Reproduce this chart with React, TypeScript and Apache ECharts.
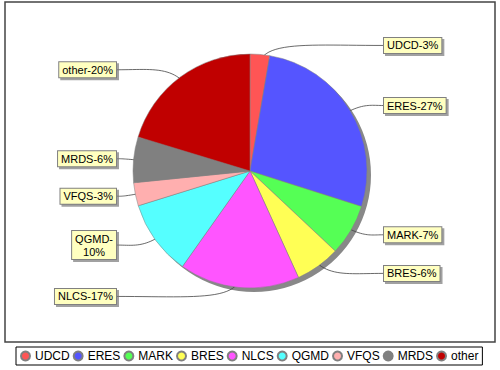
import React, { useEffect, useRef } from 'react';
import * as echarts from 'echarts';

const categories = ['UDCD', 'ERES', 'MARK', 'BRES', 'NLCS', 'QGMD', 'VFQS', 'MRDS', 'other'];
const values = [2.7, 27.2, 7.1, 6.2, 16.6, 10.4, 3.2, 6.3, 20.3];
const colors = ['#FF5555', '#5555FF', '#55FF55', '#FFFF55', '#FF55FF', '#55FFFF', '#FFAFAF', '#808080', '#C00000'];
const wrappedLabels = ['QGMD'];

const CX = 250;
const CY = 171;
const R = 117;
const LABEL_GAP = 16;
const FONT = '"Liberation Sans", Arial, sans-serif';

function bezierPoints(p0: number[], p1: number[], p2: number[], p3: number[], n: number) {
  const pts: number[][] = [];
  for (let i = 0; i <= n; i++) {
    const t = i / n;
    const a = (1 - t) * (1 - t) * (1 - t);
    const b = 3 * (1 - t) * (1 - t) * t;
    const c = 3 * (1 - t) * t * t;
    const d = t * t * t;
    pts.push([
      a * p0[0] + b * p1[0] + c * p2[0] + d * p3[0],
      a * p0[1] + b * p1[1] + c * p2[1] + d * p3[1],
    ]);
  }
  return pts;
}

export default function App() {
  const ref = useRef<HTMLDivElement>(null);
  useEffect(() => {
    if (!ref.current) return;
    const chart = echarts.init(ref.current, null, { renderer: 'svg' });
    const total = values.reduce((a, b) => a + b, 0);
    chart.setOption({
      animation: false,
      backgroundColor: '#ffffff',
      graphic: [
        {
          type: 'rect',
          silent: true,
          z: -10,
          shape: { x: 5, y: 2, width: 490, height: 340 },
          style: { fill: 'none', stroke: '#444444', lineWidth: 1.5 },
        },
      ],
      legend: {
        data: categories,
        left: 16,
        top: 347,
        orient: 'horizontal',
        icon: 'circle',
        itemWidth: 9,
        itemHeight: 9,
        itemGap: 3,
        padding: [3, 4],
        borderColor: '#000000',
        borderWidth: 1,
        selectedMode: false,
        textStyle: { fontFamily: FONT, fontSize: 12, color: '#000000' },
      },
      series: [
        {
          type: 'pie',
          name: 'shadow',
          center: [CX + 4, CY + 4],
          radius: R,
          silent: true,
          z: 1,
          label: { show: false },
          labelLine: { show: false },
          emphasis: { disabled: true },
          data: [{ value: 1, name: '', itemStyle: { color: '#888888' } }],
        },
        {
          type: 'pie',
          name: 'share',
          center: [CX, CY],
          radius: R,
          startAngle: 90,
          clockwise: true,
          z: 2,
          avoidLabelOverlap: true,
          emphasis: { disabled: true },
          itemStyle: { borderColor: '#808080', borderWidth: 0.5 },
          data: categories.map((c, i) => ({ name: c, value: values[i], itemStyle: { color: colors[i] } })),
          label: {
            show: true,
            position: 'outside',
            formatter: (p: any) => {
              const pct = Math.round((p.value / total) * 100);
              return wrappedLabels.includes(p.name) ? `${p.name}-\n${pct}%` : `${p.name}-${pct}%`;
            },
            fontFamily: FONT,
            fontSize: 11,
            lineHeight: 13,
            color: '#000000',
            backgroundColor: '#FFFFC0',
            borderColor: '#808080',
            borderWidth: 1,
            padding: [1, 3],
            shadowColor: 'rgba(120,120,120,0.7)',
            shadowOffsetX: 2,
            shadowOffsetY: 2,
            shadowBlur: 1,
          },
          labelLine: {
            show: true,
            length: 9,
            length2: 20,
            lineStyle: { color: '#444444', width: 0.8 },
          },
          labelLayout: (params: any) => {
            const rect = params.labelRect;
            const pts = params.labelLinePoints;
            const cyLabel = rect.y + rect.height / 2;
            const isLeft = rect.x + rect.width / 2 < CX;
            const edgeX = isLeft ? CX - R - LABEL_GAP : CX + R + LABEL_GAP;
            const boxCenterX = isLeft ? edgeX - rect.width / 2 : edgeX + rect.width / 2;
            const out: any = { x: boxCenterX, y: cyLabel, align: 'center', verticalAlign: 'middle' };
            if (pts && pts.length >= 2) {
              const p0 = pts[0];
              const ux = (p0[0] - CX) / R;
              const uy = (p0[1] - CY) / R;
              const inner = [CX + ux * R * 0.9, CY + uy * R * 0.9];
              const outer = [CX + ux * R * 1.12, CY + uy * R * 1.12];
              const end = [edgeX, cyLabel];
              const ctrl2 = [outer[0] + (end[0] - outer[0]) * 0.4, cyLabel];
              out.labelLinePoints = bezierPoints(inner, outer, ctrl2, end, 24);
            }
            return out;
          },
        },
      ],
    });
    return () => chart.dispose();
  }, []);
  return (
    <div
      ref={ref}
      style={{ position: 'absolute', left: 0, top: 0, width: 500, height: 370, background: '#fff' }}
    />
  );
}
